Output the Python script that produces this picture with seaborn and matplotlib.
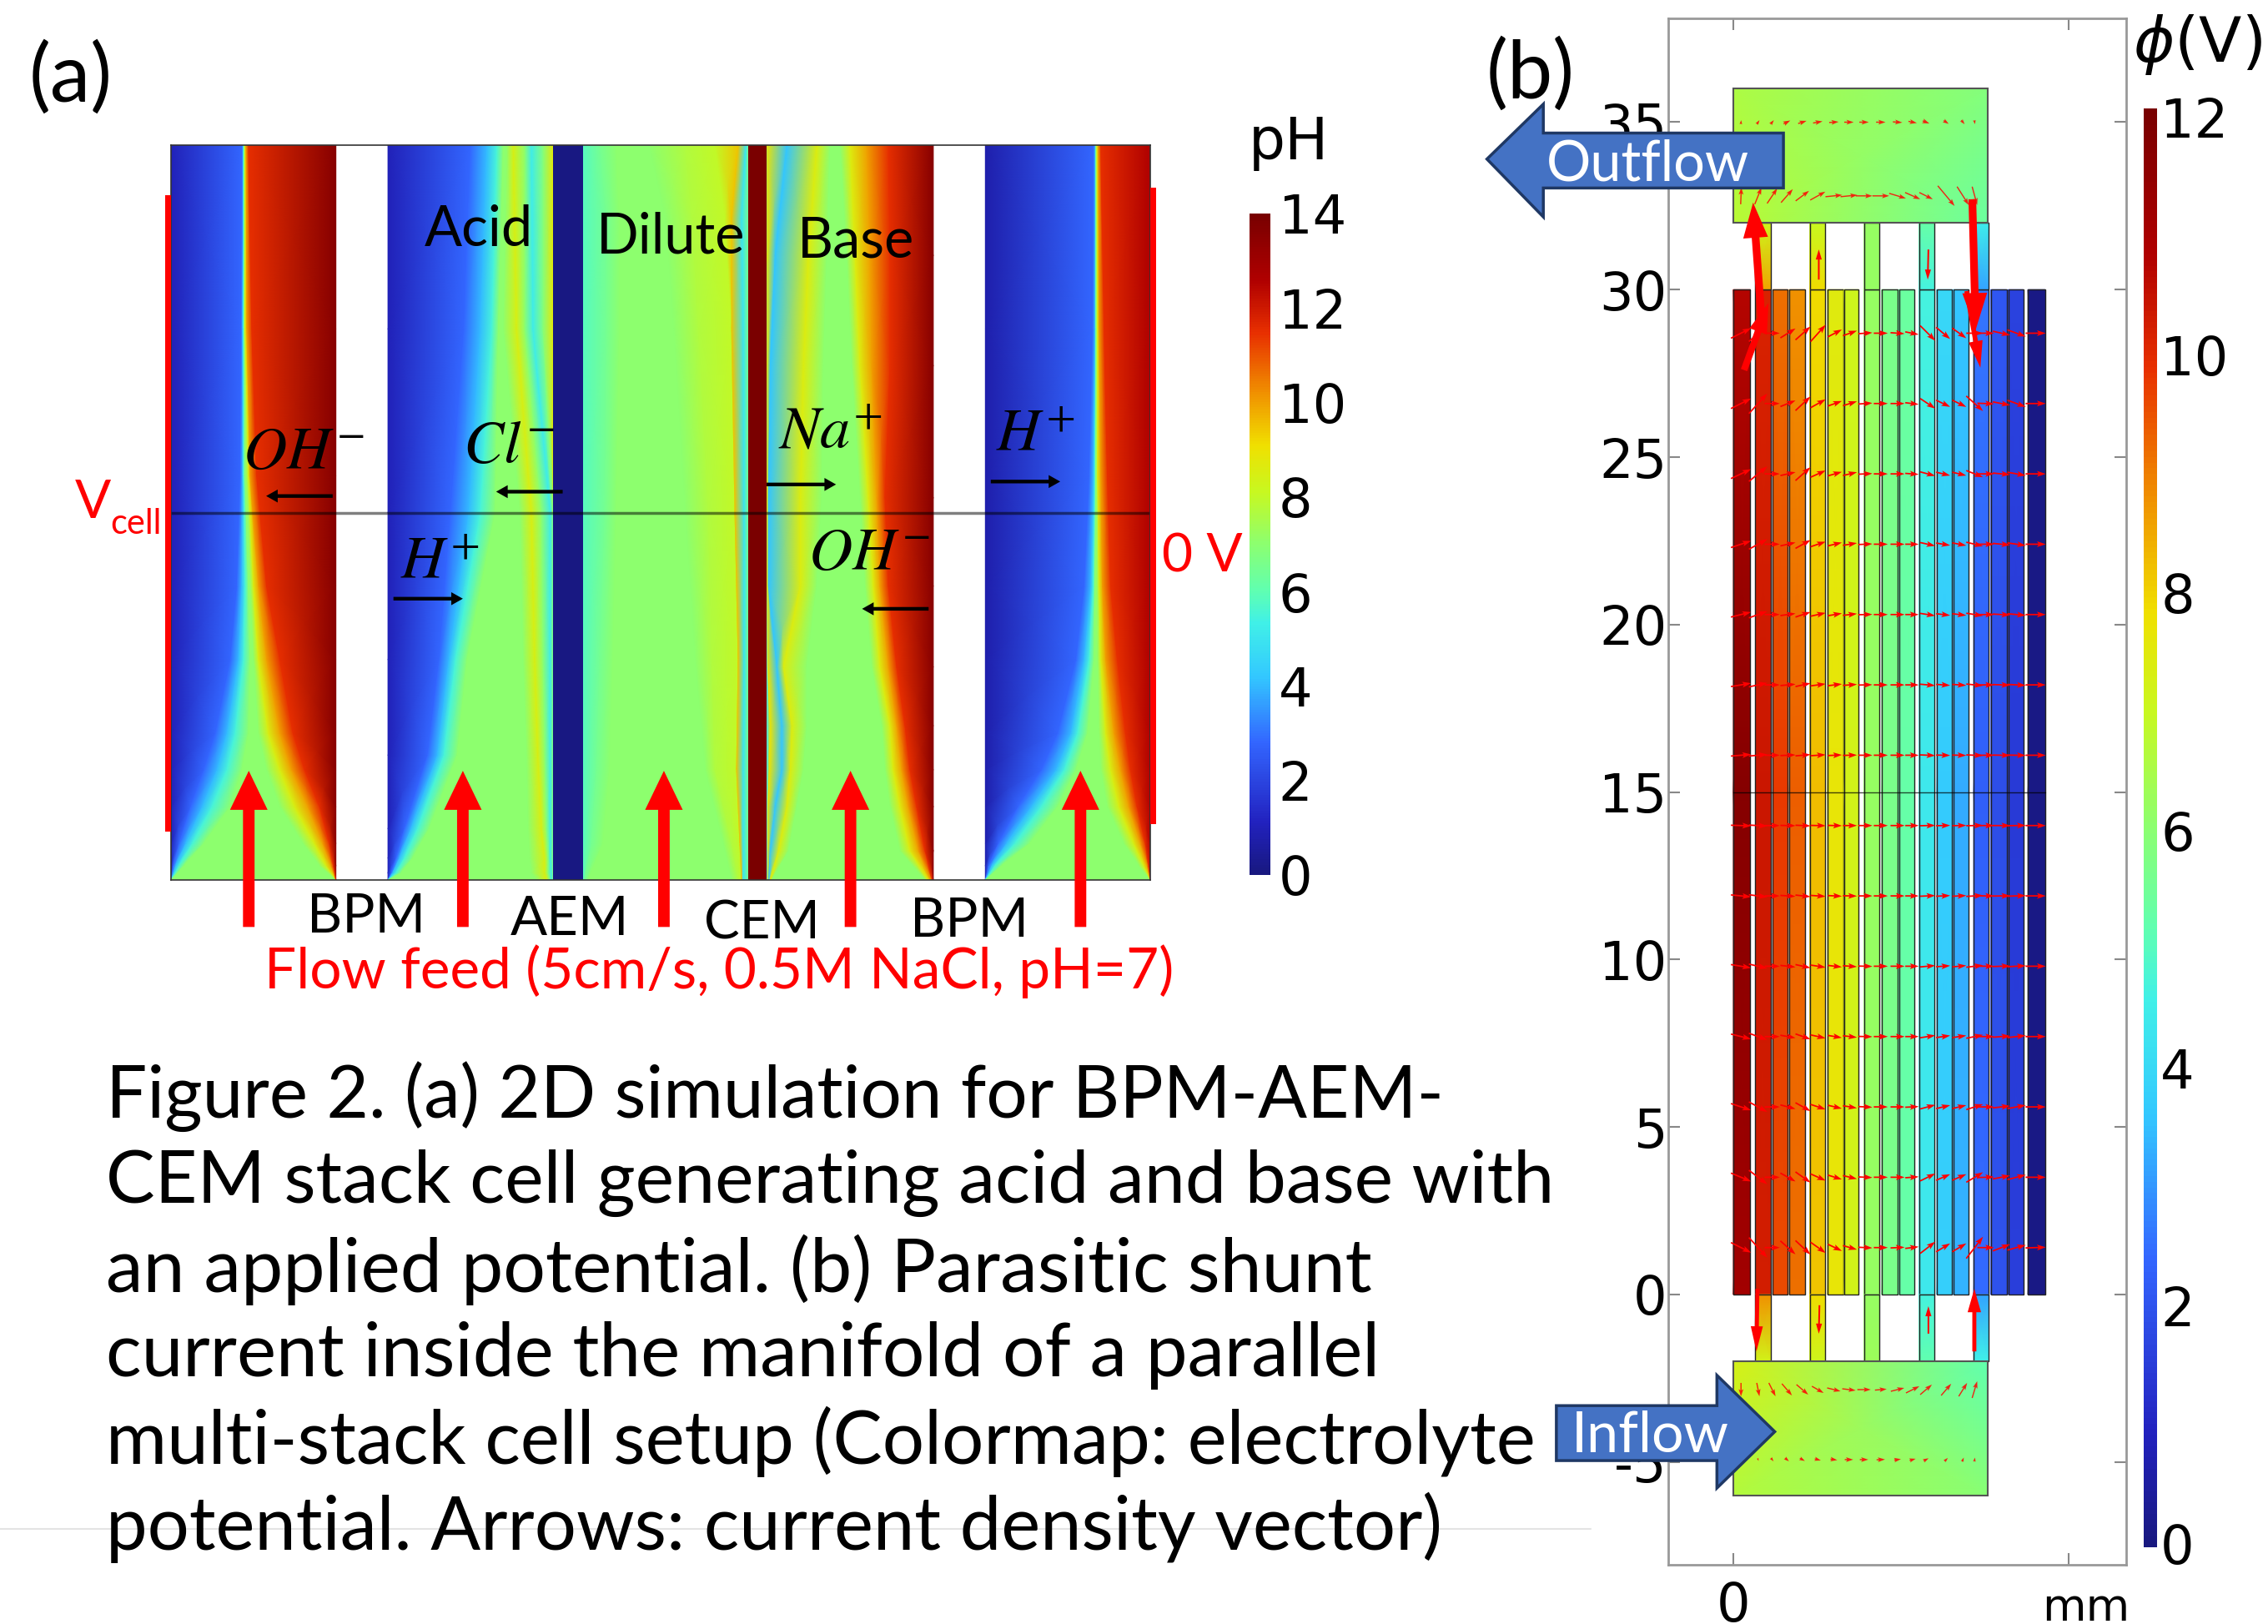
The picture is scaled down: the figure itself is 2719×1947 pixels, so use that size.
import numpy as np
import seaborn as sns
import matplotlib.pyplot as plt
from matplotlib.colors import LinearSegmentedColormap
from matplotlib.patches import Polygon, Rectangle

# ---- panel (a): pH field, stored as contour positions per channel
# each table row = one height, each column = where that pH level sits (0-1 across channel)
ch1_y = [0, .02, .05, .1, .15, .2, .3, .4, .55, .75, 1]
ch1_levels = [1.0, 2.8, 4.0, 5.5, 7.0, 7.0, 8.5, 10.0, 11.5, 13.6]
ch1_pos = [[0, 0, 0, 0, 1, 1, 1, 1],
           [.015, .03, .05, .08, .90, .94, .97, .985],
           [.05, .09, .13, .2, .8, .87, .92, .96],
           [.12, .19, .25, .36, .66, .75, .83, .9],
           [.2, .28, .34, .43, .58, .66, .73, .81],
           [.27, .34, .39, .47, .53, .59, .66, .74],
           [.36, .41, .44, .48, .5, .53, .58, .66],
           [.4, .43, .45, .47, .48, .5, .53, .58],
           [.42, .435, .44, .45, .455, .47, .48, .52],
           [.425, .435, .44, .445, .445, .45, .46, .49],
           [.43, .44, .44, .445, .445, .45, .455, .47]]

ch2_y = [0, .01, .03, .07, .17, .3, .5, .75, 1]
ch2_levels = [1.0, 2.8, 4.0, 5.5, 7.0, 7.0, 8.5, 7.0, 5.2, 6.8, 8.8]
ch2_pos = [[0, 0, 0, 0, .9, .96, .98, .99, 1],
           [.02, .03, .05, .08, .87, .95, .97, .99, 1],
           [.05, .07, .1, .15, .86, .95, .97, .985, 1],
           [.1, .14, .18, .25, .85, .93, .96, .985, 1],
           [.24, .3, .34, .42, .84, .91, .95, .985, 1],
           [.31, .37, .41, .48, .82, .89, .94, .985, 1],
           [.38, .49, .56, .65, .8, .87, .93, .985, 1],
           [.46, .56, .63, .67, .7, .78, .83, .88, .94],
           [.5, .6, .66, .7, .72, .76, .83, .87, .94]]

ch3_y = [0, .05, .15, .3, .5, .75, .9, 1]
ch3_levels = [5.8, 6.5, 7.0, 7.0, 7.7, 8.0, 9.5, 5.0, 6.5]
ch3_pos = [[.01, .03, .9, .94, .96, .96, .97],
           [.05, .12, .85, .9, .95, .95, .97],
           [.08, .16, .74, .8, .93, .93, .97],
           [.1, .18, .68, .78, .94, .94, .975],
           [.13, .2, .62, .76, .92, .92, .975],
           [.14, .22, .55, .7, .9, .9, .97],
           [.14, .22, .5, .66, .86, .9, .96],
           [.1, .2, .4, .62, .8, .94, .985]]

ch4_y = [0, .04, .1, .15, .21, .29, .4, .52, .7, .85, 1]
ch4_levels = [5.0, 9.0, 4.2, 8.6, 7.0, 7.0, 8.6, 10.0, 11.5, 13.6]
ch4_pos = [[.005, .01, .02, .03, .95, .97, .985, .995],
           [.005, .02, .07, .13, .8, .86, .91, .95],
           [.005, .05, .12, .18, .74, .8, .85, .9],
           [.015, .09, .14, .22, .71, .76, .81, .86],
           [.02, .09, .15, .24, .69, .74, .78, .83],
           [.005, .06, .1, .24, .63, .68, .73, .78],
           [.002, .01, .2, .3, .59, .64, .68, .73],
           [.002, .01, .2, .33, .56, .61, .66, .71],
           [.002, .02, .22, .34, .51, .56, .63, .74],
           [.002, .05, .25, .36, .48, .53, .62, .74],
           [.002, .12, .3, .38, .44, .5, .6, .73]]

ch5_y = [0, .02, .05, .1, .15, .2, .3, .4, .55, .75, 1]
ch5_levels = [0.8, 2.8, 4.0, 5.5, 7.0, 7.0, 8.5, 10.0, 11.5, 12.6]
ch5_pos = [[0, 0, 0, 0, 1, 1, 1, 1],
           [.02, .04, .06, .1, .93, .96, .98, .99],
           [.08, .13, .18, .27, .84, .9, .94, .97],
           [.2, .28, .34, .44, .74, .81, .87, .92],
           [.34, .43, .48, .55, .7, .76, .82, .88],
           [.44, .52, .56, .62, .69, .73, .78, .85],
           [.55, .6, .63, .66, .68, .7, .73, .8],
           [.6, .64, .655, .665, .675, .69, .71, .76],
           [.63, .655, .665, .67, .675, .68, .7, .74],
           [.65, .665, .67, .672, .675, .68, .69, .72],
           [.655, .667, .67, .672, .674, .677, .685, .7]]

channels = [(0, 114, ch1_y, ch1_levels, ch1_pos),
            (150, 264, ch2_y, ch2_levels, ch2_pos),
            (285, 399, ch3_y, ch3_levels, ch3_pos),
            (412, 527, ch4_y, ch4_levels, ch4_pos),
            (563, 677, ch5_y, ch5_levels, ch5_pos)]
membranes = [(264, 285, 0.1), (399, 412, 13.9)]
ph_ticks = [0, 2, 4, 6, 8, 10, 12, 14]

# ---- panel (b): potential in the stack
strip_left = [0, .66, 1.18, 1.67, 2.28, 2.81, 3.31, 3.90, 4.43, 4.94, 5.54, 6.07, 6.56, 7.17, 7.68, 8.2, 8.79]
strip_right = [.51, 1.11, 1.63, 2.14, 2.73, 3.28, 3.74, 4.36, 4.91, 5.39, 5.99, 6.53, 7.02, 7.62, 8.15, 8.65, 9.3]
strip_y = [0, 15, 30]
strip_phi = [[11.2, 10.3, 9.6, 9.2, 8.2, 7.7, 7.2, 6.2, 5.7, 5.3, 4.4, 3.8, 3.4, 2.5, 2.0, 1.6, 0.1],
             [11.8, 10.4, 9.8, 9.4, 8.3, 7.7, 7.2, 6.2, 5.7, 5.3, 4.4, 3.7, 3.3, 2.3, 1.9, 1.5, 0.1],
             [10.8, 10.2, 9.2, 8.8, 7.9, 7.5, 7.1, 6.2, 5.7, 5.4, 4.7, 4.0, 3.6, 2.6, 2.1, 1.7, 0.1]]
# strips 2, 5, 8, 11, 14 carry on into the manifolds
connector_index = [1, 4, 7, 10, 13]
connector_low = [[7.2, 7.1, 6.3, 5.2, 4.6], [8.8, 7.9, 6.2, 4.7, 3.2]]
connector_high = [[8.6, 7.9, 6.2, 4.7, 3.2], [7.1, 7.0, 6.2, 5.3, 4.5]]
manifold_top = [[6.8, 5.4], [6.6, 5.9]]
manifold_bottom = [[6.7, 6.0], [7.3, 5.2]]
phi_ticks = [0, 2, 4, 6, 8, 10, 12]

arrow_x = [.23, .74, 1.16, 1.63, 2.08, 2.53, 3.03, 3.48, 3.94, 4.4, 4.9, 5.33, 5.8, 6.26, 6.74, 7.2, 7.53, 8.0, 8.45, 9.02]
arrow_y = [28.7, 26.6, 24.5, 22.4, 20.3, 18.2, 16.1, 14.0, 11.9, 9.8, 7.7, 5.6, 3.5, 1.4]
arrow_u = [.6, .55, .45, .45, .45, .45, .42, .42, .42, .42, .42, .4, .45, .42, .42, .5, .5, .52, .55, .6]
arrow_v = [[.3, .5, 0, .28, .4, .5, .22, .15, .03, 0, -.03, -.08, -.45, -.35, -.3, 0, 0, -.12, -.2, 0],
           [.3, .6, 0, .18, .42, .25, .15, .13, .03, 0, 0, -.05, -.3, -.2, -.2, -.45, -.02, -.1, -.2, 0],
           [.28, .45, 0, .1, .4, .2, .12, .1, .02, 0, 0, -.03, -.12, -.1, -.1, -.2, 0, -.05, -.1, 0],
           [.2, .3, 0, .1, .25, .15, .1, .07, .02, 0, 0, 0, -.1, -.07, -.08, -.12, 0, -.05, -.08, 0],
           [.15, .2, 0, .06, .15, .1, .07, .05, .01, 0, 0, 0, -.07, -.05, -.05, -.08, 0, -.03, -.05, 0],
           [.1, .12, 0, .04, .1, .06, .05, .03, .01, 0, 0, 0, -.04, -.03, -.03, -.05, 0, -.02, -.03, 0],
           [.05, .05, 0, .02, .04, .03, .02, .01, 0, 0, 0, 0, -.02, -.01, -.01, -.02, 0, -.01, -.01, 0],
           [-.02, -.03, 0, -.01, -.02, -.01, -.01, 0, 0, 0, 0, 0, .01, .01, .01, .01, 0, 0, .01, 0],
           [-.06, -.07, 0, -.03, -.05, -.03, -.02, -.01, 0, 0, 0, 0, .02, .02, .02, .03, 0, .01, .02, 0],
           [-.1, -.13, 0, -.05, -.1, -.07, -.05, -.03, -.01, 0, 0, 0, .04, .03, .04, .06, 0, .02, .03, 0],
           [-.15, -.2, 0, -.08, -.16, -.1, -.07, -.05, -.01, 0, 0, 0, .07, .06, .06, .1, 0, .04, .06, 0],
           [-.2, -.3, 0, -.12, -.25, -.15, -.1, -.07, -.02, 0, 0, .02, .12, .1, .1, .16, 0, .06, .1, 0],
           [-.25, -.42, 0, -.25, -.32, -.2, -.13, -.1, -.02, 0, 0, .03, .22, .18, .18, .3, .02, .1, .14, 0],
           [-.3, -.6, 0, -.4, -.42, -.32, -.2, -.12, -.02, 0, .02, .05, .35, .25, .25, .65, 0, .2, .15, .02]]

manifold_x = [.23, .74, 1.16, 1.6, 2.06, 2.52, 3.0, 3.45, 3.9, 4.4, 4.9, 5.35, 5.75, 6.35, 6.85, 7.2]
manifold_y = [32.8, 35.0, -2.84, -4.93]
manifold_u = [[.02, .2, .3, .35, .4, .45, .5, .5, .5, .5, .5, .45, .4, .5, .35, .15],
              [.01, .08, .1, .2, .25, .28, .28, .28, .28, .28, .28, .25, .2, .15, .1, .02],
              [0, .08, .2, .3, .35, .35, .4, .4, .4, .35, .4, .4, .35, .3, .25, .15],
              [0, .03, .08, .12, .15, .18, .2, .25, .25, .25, .2, .18, .15, .1, .05, .02]]
manifold_v = [[.5, .5, .45, .4, .3, .25, .05, .05, 0, 0, -.15, -.2, -.2, -.6, -.55, -.55],
              [.12, .12, .12, .1, .08, .05, .02, 0, 0, 0, -.02, -.05, -.08, -.1, -.12, -.12],
              [-.4, -.4, -.4, -.35, -.3, -.2, -.1, -.05, 0, .03, .1, .2, .3, .35, .4, .5],
              [-.08, -.08, -.1, -.1, -.08, -.05, -.03, 0, 0, .01, .03, .05, .08, .1, .12, .12]]

# x0, y0, x1, y1, shaft, head width, head length
big_arrows = [(.32, 27.6, 1.05, 29.6, .2, .55, .9),
              (.86, 28.86, .59, 32.6, .23, .74, 1.05),
              (6.96, 29.96, 7.37, 27.67, .14, .42, .8),
              (7.13, 32.7, 7.23, 28.8, .23, .74, 1.1),
              (2.55, 30.3, 2.55, 31.2, .05, .18, .3),
              (5.82, 31.2, 5.8, 30.3, .05, .18, .3),
              (.72, .17, .69, -1.7, .12, .36, .75),
              (7.19, -1.7, 7.19, .17, .12, .4, .7),
              (2.57, -.32, 2.55, -1.17, .05, .18, .3),
              (5.82, -1.17, 5.82, -.35, .05, .18, .3)]

caption_lines = ['Figure 2. (a) 2D simulation for BPM-AEM-',
                 'CEM stack cell generating acid and base with',
                 'an applied potential. (b) Parasitic shunt',
                 'current inside the manifold of a parallel',
                 'multi-stack cell setup (Colormap: electrolyte',
                 'potential. Arrows: current density vector)']
caption_y = [758, 818, 878, 937, 997, 1056]
caption_size = [62.8, 63.3, 64.5, 64.2, 64, 63.8]

cmap = LinearSegmentedColormap.from_list('field', [
    (0, '#18187f'), (.08, '#2222c0'), (.2, '#3366ff'), (.3, '#33c8ff'), (.38, '#40f0e8'),
    (.43, '#60ffb0'), (.5, '#8cff70'), (.58, '#c8f820'), (.65, '#f0e000'), (.73, '#f09000'),
    (.82, '#e83000'), (.9, '#b00000'), (1, '#780000')])

sns.set_theme(style='white')
plt.rcParams['font.family'] = ['Lato', 'DejaVu Sans']
W, H = 2719, 1947
fig = plt.figure(figsize=(W / 100, H / 100), dpi=100, facecolor='white')


def box(x0, y0, x1, y1):
    return [x0 / W, 1 - y1 / H, (x1 - x0) / W, (y1 - y0) / H]


def tick_axis(rect, ymax, ticks, pad):
    # labels sit a little off the bar, so they get their own clear axes
    tax = fig.add_axes(rect, facecolor='none')
    tax.set_xticks([])
    tax.yaxis.tick_right()
    tax.set_ylim(0, ymax)
    tax.set_yticks(ticks)
    tax.set_yticklabels([str(v) for v in ticks], family='DejaVu Sans')
    tax.tick_params(axis='y', length=0, pad=pad, labelsize=46, labelcolor='black')
    for s in tax.spines.values():
        s.set_visible(False)


# panel (a)
ax_a = fig.add_axes(box(205, 174, 1379, 1055))
for left, right, ys, levels, pos in channels:
    frac = np.array([[0] + row + [1] for row in pos], dtype=float)
    X = left + frac * (right - left)
    Y = np.repeat(np.array(ys)[:, None], len(levels), axis=1)
    C = np.repeat(np.array(levels)[None, :], len(ys), axis=0)
    ax_a.pcolormesh(X, Y, C, shading='gouraud', cmap=cmap, vmin=0, vmax=14)
for left, right, ph in membranes:
    ax_a.add_patch(Rectangle((left, 0), right - left, 1, color=cmap(ph / 14), lw=0))
ax_a.axhline(.5, color='black', alpha=.5, lw=2.5)
ax_a.set_xlim(0, 677)
ax_a.set_ylim(0, 1)
ax_a.set_xticks([])
ax_a.set_yticks([])
for s in ax_a.spines.values():
    s.set_color('#333333')
    s.set_linewidth(1.2)

# pH colorbar
cax_a = fig.add_axes(box(1498, 256, 1523, 1049))
sns.heatmap(np.linspace(14, 0, 256)[:, None], ax=cax_a, cmap=cmap, vmin=0, vmax=14, cbar=False,
            xticklabels=False, yticklabels=False)
tick_axis(box(1498, 256, 1523, 1049), 14, ph_ticks, 7)

# panel (b)
ax_b = fig.add_axes(box(2000, 22, 2549, 1876))
for i in range(len(strip_left)):
    C = np.array([[row[i], row[i]] for row in strip_phi])
    X = np.array([[strip_left[i], strip_right[i]]] * len(strip_y))
    Y = np.array([[v, v] for v in strip_y])
    ax_b.pcolormesh(X, Y, C, shading='gouraud', cmap=cmap, vmin=0, vmax=12.1)
    ax_b.add_patch(Rectangle((strip_left[i], 0), strip_right[i] - strip_left[i], 30, fill=False, ec='#222222', lw=1))
for k, i in enumerate(connector_index):
    X = [[strip_left[i], strip_right[i]]] * 2
    ax_b.pcolormesh(X, [[-2, -2], [0, 0]], [[connector_low[0][k]] * 2, [connector_low[1][k]] * 2],
                    shading='gouraud', cmap=cmap, vmin=0, vmax=12.1)
    ax_b.pcolormesh(X, [[30, 30], [32, 32]], [[connector_high[0][k]] * 2, [connector_high[1][k]] * 2],
                    shading='gouraud', cmap=cmap, vmin=0, vmax=12.1)
    ax_b.add_patch(Rectangle((strip_left[i], -2), strip_right[i] - strip_left[i], 2, fill=False, ec='#222222', lw=1))
    ax_b.add_patch(Rectangle((strip_left[i], 30), strip_right[i] - strip_left[i], 2, fill=False, ec='#222222', lw=1))
for (y0, y1), vals in (((32, 36), manifold_top), ((-6, -2), manifold_bottom)):
    ax_b.pcolormesh([[0, 7.6], [0, 7.6]], [[y0, y0], [y1, y1]], vals, shading='gouraud', cmap=cmap, vmin=0, vmax=12.1)
    ax_b.add_patch(Rectangle((0, y0), 7.6, 4, fill=False, ec='#555555', lw=1.5))
ax_b.plot([0, 9.3], [15, 15], color='black', lw=1, alpha=.7)

qx, qy = np.meshgrid(arrow_x, arrow_y)
qu = np.tile(arrow_u, (len(arrow_y), 1))
ax_b.quiver(qx, qy, qu, np.array(arrow_v), color='red', angles='xy', scale_units='xy', scale=1,
            pivot='mid', width=.0032, headwidth=4, headlength=6, headaxislength=5, zorder=5)
mx, my = np.meshgrid(manifold_x, manifold_y)
ax_b.quiver(mx, my, np.array(manifold_u), np.array(manifold_v), color='red', angles='xy', scale_units='xy',
            scale=1, pivot='mid', width=.0026, headwidth=4, headlength=6, headaxislength=5, zorder=5, alpha=.85)
for x0, y0, x1, y1, shaft, head, hlen in big_arrows:
    ax_b.arrow(x0, y0, x1 - x0, y1 - y0, width=shaft, head_width=head, head_length=hlen,
               length_includes_head=True, color='red', lw=0, zorder=6)

ax_b.set_xlim(-1.94, 11.72)
ax_b.set_ylim(-8.07, 38.1)
ax_b.set_xticks([0, 10])
ax_b.set_xticklabels(['0', ''], family='DejaVu Sans')
ax_b.set_yticks(range(-5, 40, 5))
ax_b.set_yticklabels(['-5', '0', '5', '10', '15', '20', '25', '30', '35'], family='DejaVu Sans')
ax_b.tick_params(axis='both', direction='in', length=10, width=1.5, color='#888888', labelsize=46,
                 labelcolor='black', top=True, right=True, bottom=True, left=True)
ax_b.tick_params(axis='y', pad=1)
ax_b.tick_params(axis='x', pad=14)
for s in ax_b.spines.values():
    s.set_visible(True)
    s.set_color('#999999')
    s.set_linewidth(2)

# potential colorbar
cax_b = fig.add_axes(box(2570, 130, 2586, 1855))
sns.heatmap(np.linspace(12.1, 0, 256)[:, None], ax=cax_b, cmap=cmap, vmin=0, vmax=12.1, cbar=False,
            xticklabels=False, yticklabels=False)
tick_axis(box(2570, 126, 2586, 1851), 12.1, phi_ticks, 3)

# everything annotated on top, in the coordinates of the 1568 wide view
ov = fig.add_axes([0, 0, 1, 1], facecolor='none')
ov.set_xlim(0, 1568)
ov.set_ylim(1123, 0)
ov.axis('off')

ov.plot([0, 1100], [1057, 1057], color='#e4e4e4', lw=1.5)
ov.add_patch(Rectangle((114, 135), 4, 440, color='red', lw=0))
ov.add_patch(Rectangle((795, 130), 4, 440, color='red', lw=0))

for x in [172, 320, 459, 588, 747]:
    ov.arrow(x, 641, 0, -108, width=8, head_width=26, head_length=27, length_includes_head=True, color='red', lw=0)
for x0, x1, y in [(230, 184, 343), (389, 343, 340), (530, 578, 335), (685, 733, 333), (272, 320, 414), (642, 596, 421)]:
    ov.arrow(x0, y, x1 - x0, 0, width=2.5, head_width=9, head_length=8, length_includes_head=True, color='black', lw=0)


def label(x, y, s, size, color='black', **kw):
    ov.text(x, y, s, fontsize=size, color=color, ha=kw.pop('ha', 'center'), va=kw.pop('va', 'center'), **kw)


for x, y, s, size in [(331, 159, 'Acid', 48), (464, 164, 'Dilute', 48), (592, 167, 'Base', 48),
                      (253, 634, 'BPM', 47), (394, 636, 'AEM', 47), (527, 639, 'CEM', 46), (670, 637, 'BPM', 47)]:
    label(x, y, s, size)
for x, y, s in [(210, 312, '$OH^{-}$'), (352, 308, '$Cl^{-}$'), (574, 298, '$Na^{+}$'),
                (716, 300, '$H^{+}$'), (304, 388, '$H^{+}$'), (601, 382, '$OH^{-}$')]:
    label(x, y, s, 52, math_fontfamily='stix')

label(497, 672, 'Flow feed (5cm/s, 0.5M NaCl, pH=7)', 48.7, color='red')
label(64, 348, 'V', 46, color='red')
label(94, 362, 'cell', 30, color='red')
label(831, 385, '0 V', 46, color='red')
label(49, 54, '(a)', 70)
label(1058, 52, '(b)', 70)
label(891, 99, 'pH', 50, family='DejaVu Sans')
label(1519, 31, '$\\phi$(V)', 54, family='DejaVu Sans', math_fontfamily='dejavusans')
label(1442, 1112, 'mm', 39, family='DejaVu Sans')

for s, y, size in zip(caption_lines, caption_y, caption_size):
    label(73, y, s, size, ha='left')

blue, navy = '#4472c4', '#1f3864'
ov.add_patch(Polygon([(1028, 110), (1067, 72), (1067, 92), (1233, 92), (1233, 130), (1067, 130), (1067, 150)],
                     fc=blue, ec=navy, lw=2.5, zorder=8))
ov.add_patch(Polygon([(1076, 972), (1187, 972), (1187, 951), (1227, 990), (1187, 1029), (1187, 1010), (1076, 1010)],
                     fc=blue, ec=navy, lw=2.5, zorder=8))
label(1139, 114, 'Outflow', 48, color='white', zorder=9)
label(1141, 993, 'Inflow', 49, color='white', zorder=9)

fig.savefig('out.png', dpi=100)
